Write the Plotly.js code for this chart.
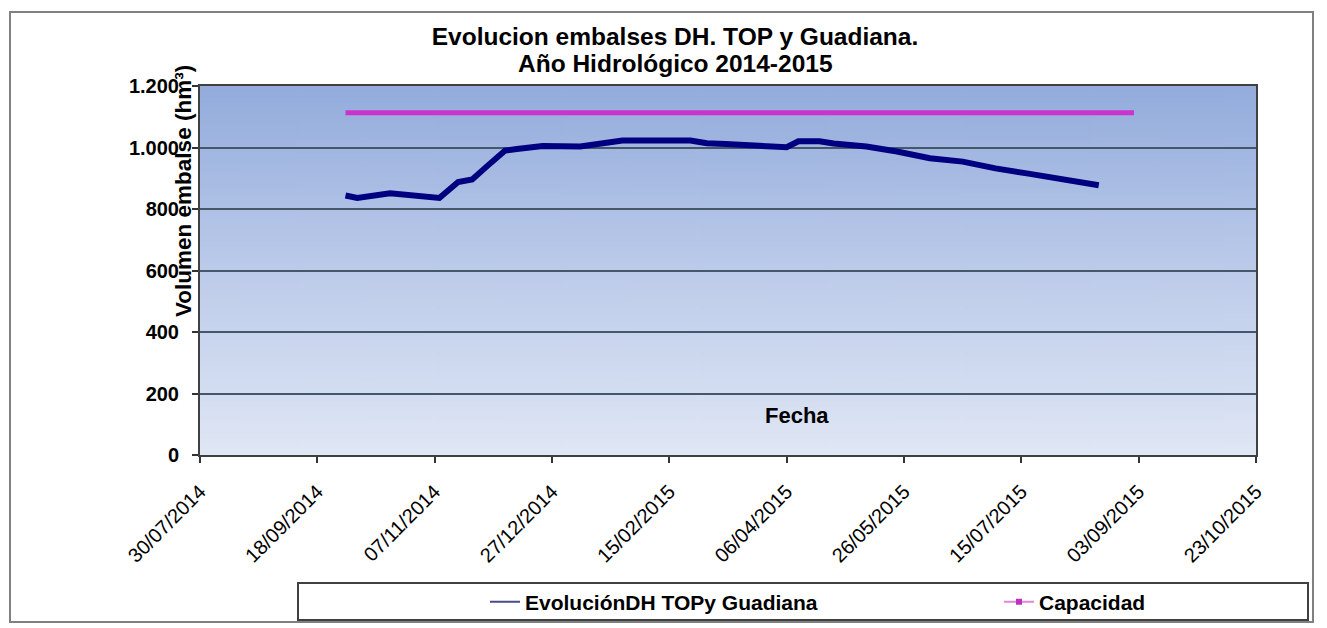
<!DOCTYPE html>
<html>
<head>
<meta charset="utf-8">
<script src="https://cdn.plot.ly/plotly-3.0.1.min.js"></script>
<style>html,body{margin:0;padding:0;background:#fff;}#chart{width:1327px;height:628px;}</style>
</head>
<body>
<div id="chart"></div>
<script>
// ---- Data ----
const evolDates = ['2014-09-30','2014-10-05','2014-10-19','2014-10-28','2014-11-04','2014-11-09',
  '2014-11-17','2014-11-23','2014-11-29','2014-12-07','2014-12-12','2014-12-23',
  '2015-01-08','2015-01-16','2015-01-26','2015-02-24','2015-03-03','2015-03-11',
  '2015-03-31','2015-04-06','2015-04-11','2015-04-20','2015-04-26','2015-05-10',
  '2015-05-23','2015-06-06','2015-06-20','2015-07-04','2015-07-18','2015-08-02','2015-08-17'];
const evolValues = [844,836,851,844,840,836,
  888,896,937,990,995,1005,
  1003,1014,1023,1023,1014,1011,
  1007,1001,1020,1020,1013,1003,
  987,965,954,932,915,896,877];
const capDates = ['2014-09-30','2015-09-01'];
const capValues = [1113,1113];
const seriesNames = ['EvoluciónDH TOPy Guadiana','Capacidad'];
const titleLines = ['Evolucion embalses DH. TOP y Guadiana.','Año Hidrológico 2014-2015'];
const yTitle = 'Volumen embalse (hm³)';
const xTitle = 'Fecha';

// ---- Geometry helpers ----
const L=200, R=1256, T=86, B=455, W=R-L, H=B-T;
const px = x => (x-L)/W;
const py = y => (B-y)/H;

// gradient background for plot area
const cv=document.createElement('canvas'); cv.width=16; cv.height=256;
const ctx=cv.getContext('2d');
const g=ctx.createLinearGradient(0,0,0,256);
g.addColorStop(0,'#93acdc'); g.addColorStop(0.5,'#bccbea'); g.addColorStop(1,'#e0e7f5');
ctx.fillStyle=g; ctx.fillRect(0,0,16,256);
const bgURL=cv.toDataURL();

const SANS='Liberation Sans, Arial, sans-serif';

const traces=[
  {x:evolDates,y:evolValues,type:'scatter',mode:'lines',name:seriesNames[0],showlegend:false,
   line:{color:'#000080',width:6}},
  {x:capDates,y:capValues,type:'scatter',mode:'lines',name:seriesNames[1],showlegend:false,
   line:{color:'#cc33cc',width:5}},
  {x:[null],y:[null],type:'scatter',mode:'lines',name:seriesNames[0],legend:'legend',
   line:{color:'#4a4a8a',width:2}},
  {x:[null],y:[null],type:'scatter',mode:'lines+markers',name:seriesNames[1],legend:'legend2',
   line:{color:'#dd88dd',width:2},marker:{symbol:'square',size:6,color:'#bb33bb'}}
];

const legendBase={orientation:'h',xanchor:'left',yanchor:'middle',bgcolor:'rgba(0,0,0,0)',
  borderwidth:0,font:{family:SANS,size:21,color:'#000',weight:'bold'}};

const layout={
  width:1327,height:628,
  margin:{l:L,r:1327-R,t:T,b:628-B,pad:0,autoexpand:false},
  paper_bgcolor:'#ffffff',plot_bgcolor:'rgba(0,0,0,0)',
  separators:',.',
  showlegend:true,
  title:{text:'<b>'+titleLines[0]+'</b>',xref:'paper',x:px(675),xanchor:'center',
    yref:'container',y:1-36/628,yanchor:'middle',font:{family:SANS,size:24.5,color:'#000'}},
  xaxis:{type:'date',range:['2014-07-30','2015-10-23'],tick0:'2014-07-30',dtick:50*86400000,
    tickformat:'%d/%m/%Y',tickangle:-45,showgrid:false,zeroline:false,automargin:false,
    showline:true,linecolor:'#404040',linewidth:2,mirror:true,
    ticks:'outside',ticklen:6,tickwidth:2,tickcolor:'#333',ticklabelstandoff:9,
    tickfont:{family:SANS,size:20,color:'#000'}},
  yaxis:{range:[0,1200],dtick:200,tickformat:',d',showgrid:true,gridcolor:'#47576a',gridwidth:2,
    zeroline:false,showline:true,linecolor:'#404040',linewidth:2,mirror:true,automargin:false,
    ticks:'outside',ticklen:6,tickwidth:2,tickcolor:'#333',ticklabelstandoff:9,
    tickfont:{family:SANS,size:20,color:'#000',weight:'bold'}},
  images:[{source:bgURL,xref:'paper',yref:'paper',x:0,y:1,sizex:1,sizey:1,
    sizing:'stretch',xanchor:'left',yanchor:'top',layer:'below'}],
  annotations:[
    {text:'<b>'+titleLines[1]+'</b>',xref:'paper',yref:'paper',x:px(675),y:py(63),
     xanchor:'center',yanchor:'middle',showarrow:false,font:{family:SANS,size:24.5,color:'#000'}},
    {text:'<b>'+yTitle+'</b>',xref:'paper',yref:'paper',x:px(183),y:py(191),textangle:-90,
     xanchor:'center',yanchor:'middle',showarrow:false,font:{family:SANS,size:22.5,color:'#000'}},
    {text:'<b>'+xTitle+'</b>',xref:'paper',yref:'paper',x:px(797),y:py(415),
     xanchor:'center',yanchor:'middle',showarrow:false,font:{family:SANS,size:22,color:'#000'}}
  ],
  shapes:[
    {type:'rect',xref:'paper',yref:'paper',x0:px(10),x1:px(1313),y0:py(622),y1:py(12),
     line:{color:'#808080',width:2},fillcolor:'rgba(0,0,0,0)',layer:'below'},
    {type:'rect',xref:'paper',yref:'paper',x0:px(298),x1:px(1308),y0:py(620),y1:py(583),
     line:{color:'#404040',width:2},fillcolor:'rgba(0,0,0,0)',layer:'below'}
  ],
  legend:Object.assign({},legendBase,{x:px(485),y:py(602)}),
  legend2:Object.assign({},legendBase,{x:px(999),y:py(602)})
};

Plotly.newPlot('chart',traces,layout,{staticPlot:true,displayModeBar:false});
</script>
</body>
</html>
